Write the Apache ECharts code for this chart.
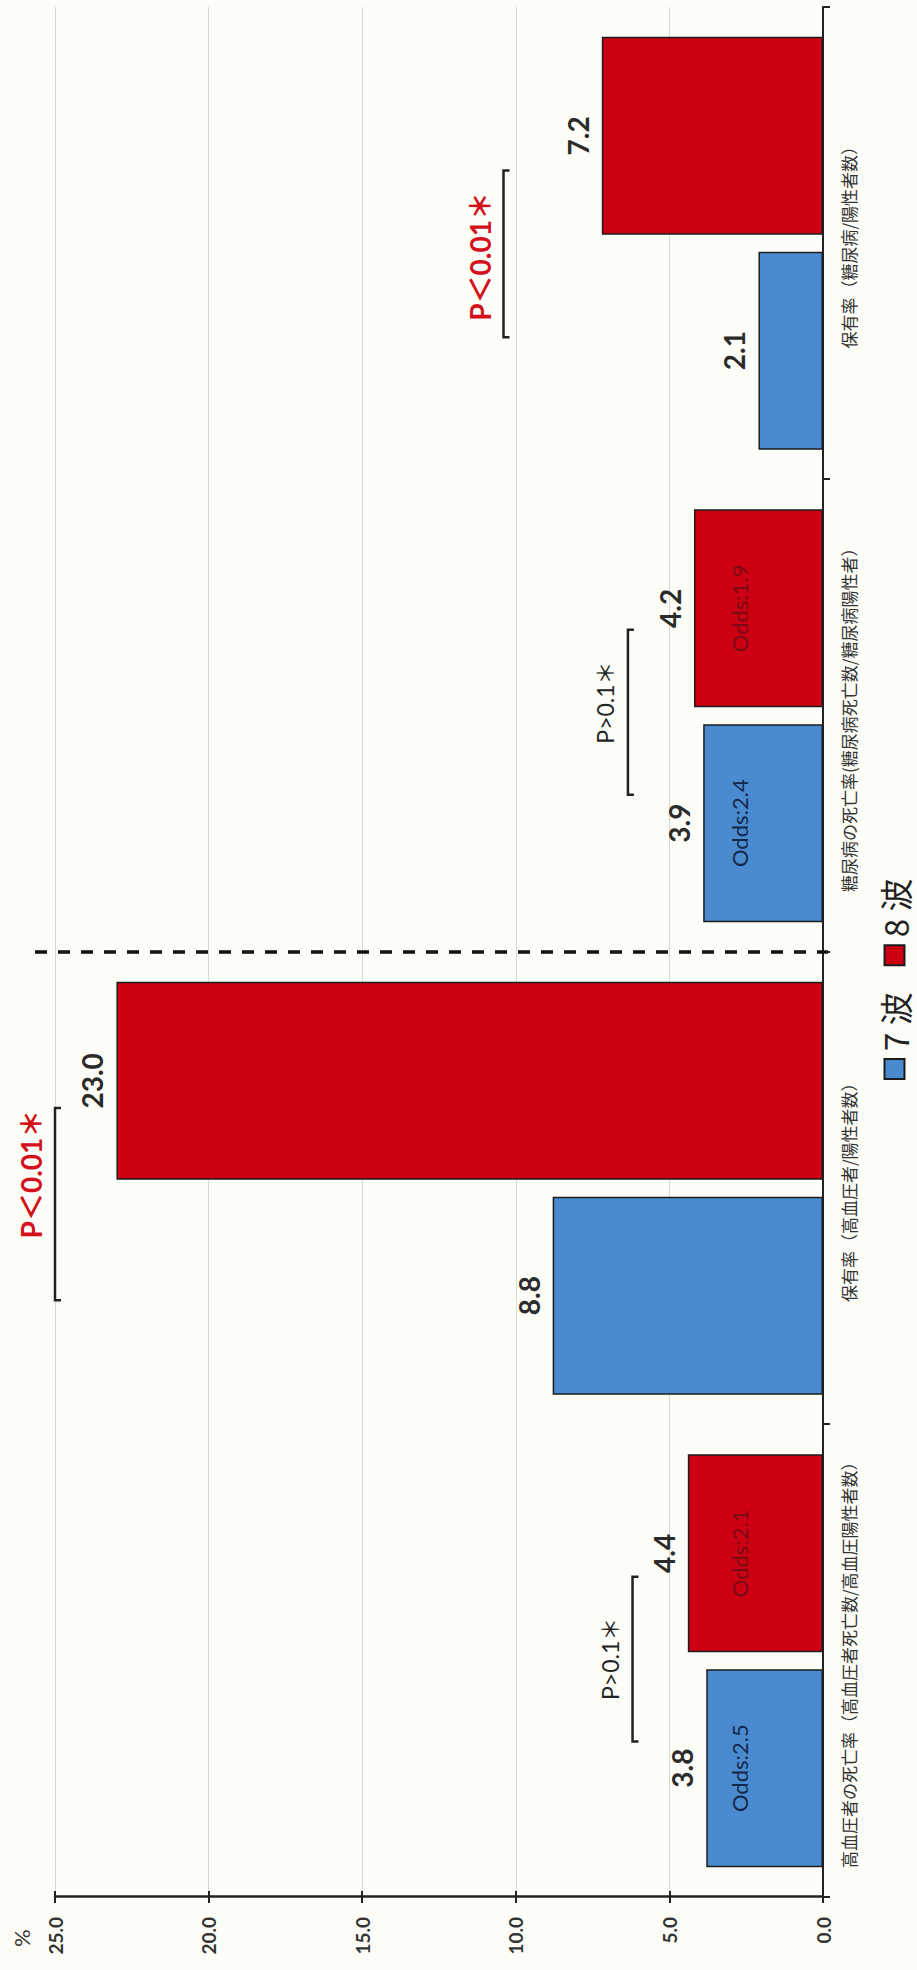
<!DOCTYPE html>
<html>
<head>
<meta charset="utf-8">
<script src="https://cdn.jsdelivr.net/npm/echarts@6/dist/echarts.min.js"></script>
<style>
  html, body { margin: 0; padding: 0; background: #fdfdf7; overflow: hidden; }
  #wrap { position: absolute; left: 0; top: 0; width: 917px; height: 1970px; overflow: hidden; }
  /* the chart is laid out landscape and turned a quarter turn to stand upright on the page */
  #chart { position: absolute; left: 0; top: 0; width: 1970px; height: 917px;
           transform-origin: 0 0; transform: translate(0, 1970px) rotate(-90deg); }
</style>
</head>
<body>
<div id="wrap"><div id="chart"></div></div>
<script>
// categories along the base axis
const categories = [
  '高血圧者の死亡率（高血圧者死亡数/高血圧陽性者数）',
  '保有率（高血圧者/陽性者数）',
  '糖尿病の死亡率(糖尿病死亡数/糖尿病陽性者）',
  '保有率（糖尿病/陽性者数）'
];
const seriesNames = ['7 波', '8 波'];
// percentages per wave
const wave7 = [3.8, 8.8, 3.9, 2.1];
const wave8 = [4.4, 23.0, 4.2, 7.2];
// odds ratios printed inside the bars
const odds7 = ['Odds:2.5', null, 'Odds:2.4', null];
const odds8 = ['Odds:2.1', null, 'Odds:1.9', null];
// value axis
const valueMin = 0, valueMax = 25, valueStep = 5;
const valueAxisName = '%';
// significance annotations: text and bracket height (in %) per category
const sigText = ['P>0.1＊', 'P＜0.01＊', 'P>0.1＊', 'P＜0.01＊'];
const sigLevel = [6.2, 25.0, 6.35, 10.4];
// dashed divider drawn after this category index
const dividerAfter = [1];

// bracket geometry relative to the category centre, in band widths: [from, to, text centre]
const bracketLayout = [
  [-0.171, 0.178, 0.004],
  [-0.237, 0.170, 0.030],
  [-0.167, 0.182, 0.028],
  [-0.199, 0.154, -0.028]
];

const LATIN = 'Lato, "Noto Sans CJK JP", sans-serif';
const CJK = '"Noto Sans CJK JP", "Noto Sans", sans-serif';
const BLUE = '#4a8bd0', RED = '#cc0012', EDGE = '#1c1c1c', INK = '#2b2b2b';

const chart = echarts.init(document.getElementById('chart'), null, { renderer: 'svg' });

function oddsHelper(name, stack, odds, color) {
  return {
    name: name, type: 'bar', stack: stack, barWidth: 198, barGap: '8.5%',
    data: odds.map(o => (o ? 0 : null)),
    itemStyle: { color: 'rgba(0,0,0,0)', borderWidth: 0 },
    label: {
      show: true, position: 'top', distance: 73,
      formatter: p => odds[p.dataIndex] || '',
      fontFamily: LATIN, fontSize: 22, color: color
    },
    emphasis: { disabled: true },
    silent: true, z: 3
  };
}

function waveSeries(name, stack, values, color) {
  return {
    name: name, type: 'bar', stack: stack, barWidth: 198, barGap: '8.5%',
    data: values,
    itemStyle: { color: color, borderColor: EDGE, borderWidth: 1.5 },
    label: {
      show: true, position: 'top', distance: 10,
      formatter: p => Number(p.value).toFixed(1),
      fontFamily: LATIN, fontSize: 28, fontWeight: 'bold', color: INK
    },
    z: 2
  };
}

const option = {
  backgroundColor: '#fdfdf7',
  animation: false,
  grid: { left: 73, right: 7, top: 55, bottom: 94 },
  graphic: [
    { type: 'text', left: 23, top: 10,
      style: { text: valueAxisName, fontFamily: LATIN, fontSize: 22, fill: '#333' } }
  ],
  legend: {
    data: seriesNames,
    left: 885, top: 873,
    icon: 'rect', itemWidth: 20, itemHeight: 20, itemGap: 26,
    textStyle: { fontFamily: CJK, fontSize: 33, lineHeight: 33, color: '#222', padding: [0, 0, 0, 3] }
  },
  xAxis: {
    type: 'category',
    data: categories,
    axisLine: { lineStyle: { color: '#222', width: 2 } },
    axisTick: { show: true, length: 7, lineStyle: { color: '#222', width: 2 } },
    axisLabel: { interval: 0, margin: 17, fontFamily: CJK, fontSize: 17, color: '#333' },
    splitLine: { show: false }
  },
  yAxis: [
    {
      type: 'value', min: valueMin, max: valueMax, interval: valueStep,
      axisLine: { show: true, lineStyle: { color: '#222', width: 2.5 } },
      axisTick: { show: true, length: 6, lineStyle: { color: '#222', width: 2 } },
      axisLabel: { margin: 20, formatter: v => v.toFixed(1), fontFamily: LATIN, fontSize: 19, fontWeight: 'bold', color: '#333' },
      splitLine: { show: true, lineStyle: { color: '#d9d9d4', width: 1 } }
    },
    {
      // inner half of the crossing ticks on the value axis
      type: 'value', min: valueMin, max: valueMax, interval: valueStep, position: 'left',
      axisLine: { show: false },
      axisTick: { show: true, inside: true, length: 6, lineStyle: { color: '#222', width: 2 } },
      axisLabel: { show: false },
      splitLine: { show: false }
    }
  ],
  series: [
    oddsHelper('odds7', 'w7', odds7, '#14284a'),
    waveSeries(seriesNames[0], 'w7', wave7, BLUE),
    oddsHelper('odds8', 'w8', odds8, '#7a0a14'),
    waveSeries(seriesNames[1], 'w8', wave8, RED),
    {
      name: 'significance', type: 'custom', clip: false, silent: true, z: 5,
      data: sigLevel.map((v, i) => [i, v]),
      renderItem: function (params, api) {
        const i = api.value(0);
        const p = api.coord([i, api.value(1)]);
        const band = api.size([1, 0])[0];
        const L = bracketLayout[i];
        const x1 = p[0] + L[0] * band, x2 = p[0] + L[1] * band, y = p[1];
        const strong = sigText[i].indexOf('＜') >= 0;
        return {
          type: 'group',
          children: [
            { type: 'polyline', shape: { points: [[x1, y + 6], [x1, y], [x2, y], [x2, y + 6]] },
              style: { stroke: '#222', lineWidth: 2.5, fill: null } },
            { type: 'text', x: p[0] + L[2] * band, y: y - (strong ? 10 : 11),
              style: { text: sigText[i], align: 'center', verticalAlign: 'bottom',
                       fontFamily: LATIN, fontSize: strong ? 28 : 23,
                       fontWeight: strong ? 'bold' : 'normal',
                       fill: strong ? '#d4101c' : '#222' } }
          ]
        };
      }
    },
    {
      name: 'divider', type: 'custom', clip: false, silent: true, z: 5,
      data: dividerAfter.map(i => [i, valueMax]),
      renderItem: function (params, api) {
        const i = api.value(0);
        const band = api.size([1, 0])[0];
        const top = api.coord([i, valueMax]);
        const bottom = api.coord([i, valueMin]);
        const x = top[0] + band / 2;
        return {
          type: 'line',
          shape: { x1: x, y1: top[1] - 20, x2: x, y2: bottom[1] + 5 },
          style: { stroke: '#111', lineWidth: 3.5, lineDash: [12, 11] }
        };
      }
    }
  ]
};

chart.setOption(option);
</script>
</body>
</html>
